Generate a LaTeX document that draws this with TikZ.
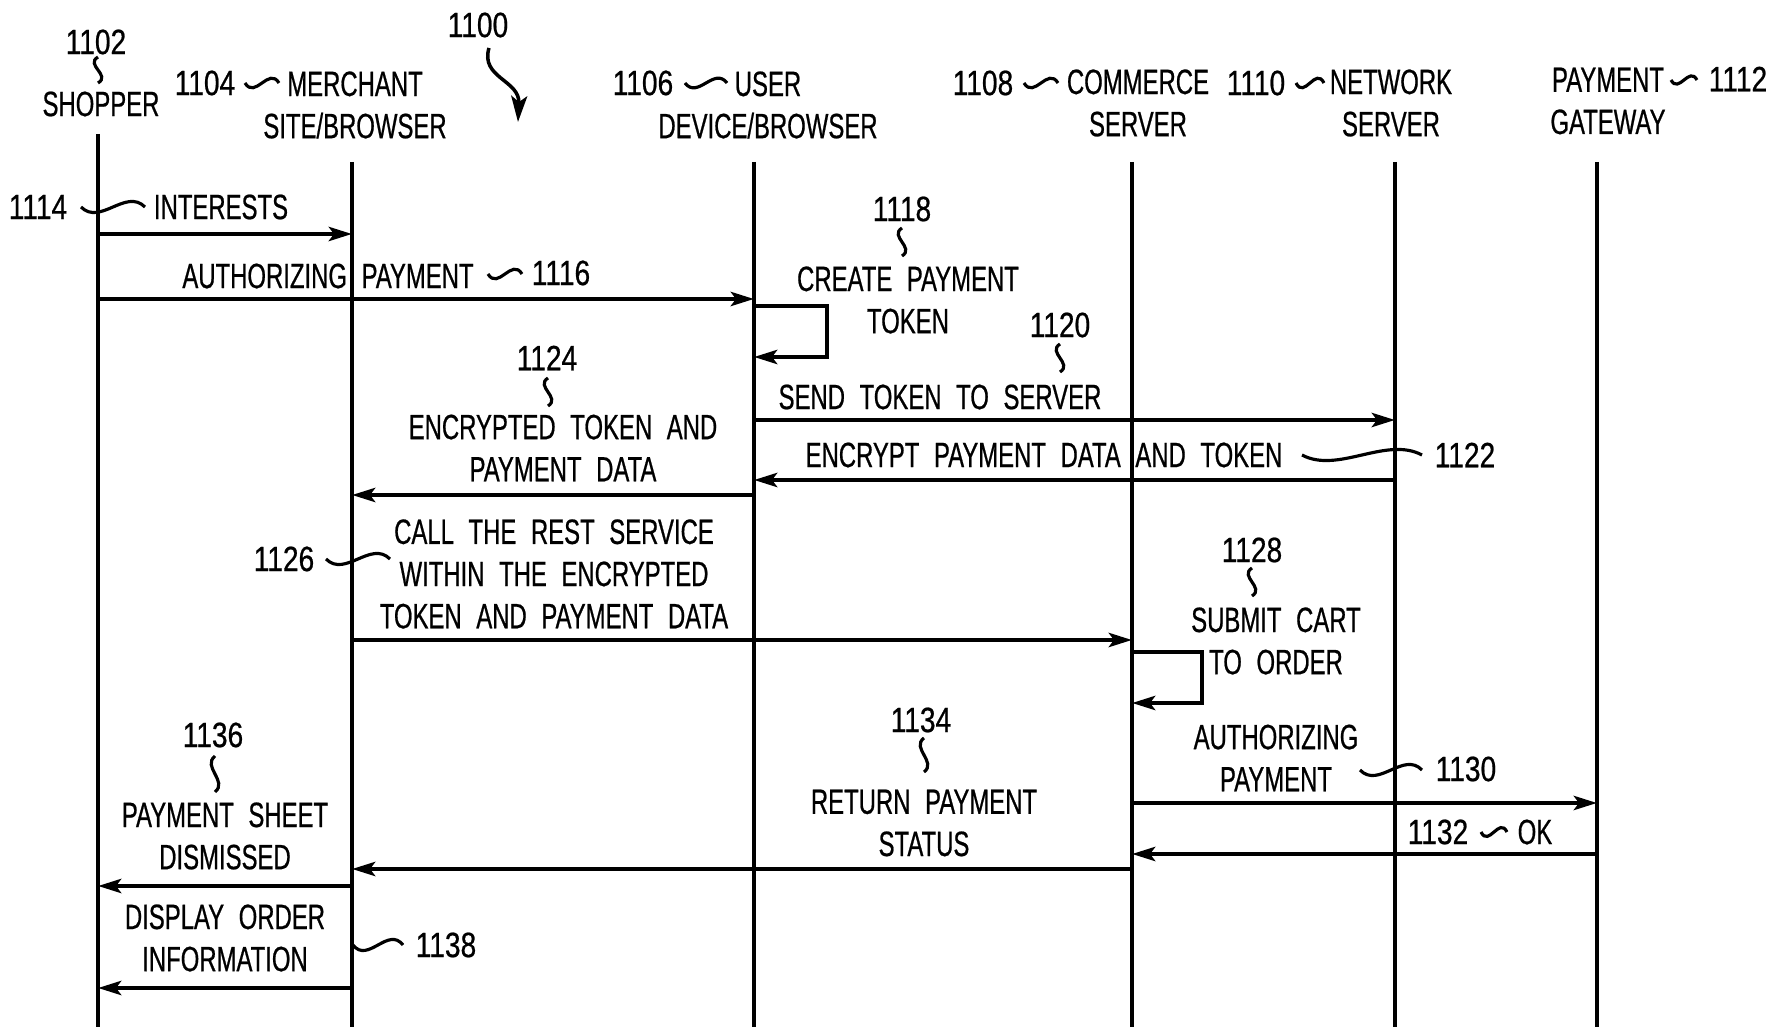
\documentclass[tikz,border=0pt]{standalone}
\usepackage{fontspec}
\setmainfont{Liberation Sans}[FakeStretch=0.68,WordSpace=2.2,FakeBold=0.6]
\newfontfamily\numfont{Liberation Sans}[FakeStretch=0.8,FakeBold=0.6]
\usetikzlibrary{arrows.meta}
\begin{document}
\begin{tikzpicture}[x=0.1mm,y=-0.1mm,
  txt/.style={font=\fontsize{10}{12}\selectfont, align=center, inner sep=0pt},
  num/.style={font=\numfont\fontsize{10}{12}\selectfont, inner sep=0pt},
  life/.style={line width=1.2pt},
  msg/.style={line width=1.3pt,-{Stealth[length=2.3mm,width=1.4mm,inset=0.5mm]}},
  lead/.style={line width=0.9pt},
  hsq/.pic={\draw[lead] (-1,0) .. controls (-0.4,1.2) and (0.4,-1.2) .. (1,0);},
  vsq/.pic={\draw[lead] (0,-1) .. controls (-1.2,-0.4) and (1.2,0.4) .. (0,1);}]
\useasboundingbox (0,0) rectangle (1775,1033);
% lifelines
\coordinate (s0) at (98,134);  \coordinate (s1) at (98,1027);
\coordinate (m0) at (352,162); \coordinate (m1) at (352,1027);
\coordinate (u0) at (754,162); \coordinate (u1) at (754,1027);
\coordinate (c0) at (1132,162); \coordinate (c1) at (1132,1027);
\coordinate (n0) at (1395,162); \coordinate (n1) at (1395,1027);
\coordinate (g0) at (1597,162); \coordinate (g1) at (1597,1027);
\foreach \a/\b in {s0/s1,m0/m1,u0/u1,c0/c1,n0/n1,g0/g1} \draw[life] (\a) -- (\b);
% headings
\node[num] (n1102) at (96,42) {1102};
\pic[xscale=11,yscale=13] at (98,70) {vsq};
\node[txt] (shop) at (101,104) {SHOPPER};
\node[num] (n1104) at (205,83) {1104};
\pic[xscale=17,yscale=14] at (262,83) {hsq};
\node[txt] (merch) at (355,105) {MERCHANT\\SITE/BROWSER};
\node[num] (n1100) at (478,25) {1100};
\coordinate (a1100s) at (489,48);
\coordinate (a1100e) at (518,122);
\draw[line width=1pt,-{Stealth[length=2.6mm,width=1.6mm,inset=0.6mm]}] (a1100s) .. controls (480,78) and (520,80) .. (a1100e);
\node[num] (n1106) at (643,83) {1106};
\pic[xscale=21,yscale=14] at (706,83) {hsq};
\node[txt] (user) at (768,105) {USER\\DEVICE/BROWSER};
\node[num] (n1108) at (983,83) {1108};
\pic[xscale=17,yscale=14] at (1041,83) {hsq};
\node[txt] (comm) at (1138,103) {COMMERCE\\SERVER};
\node[num] (n1110) at (1256,83) {1110};
\pic[xscale=14,yscale=14] at (1310,83) {hsq};
\node[txt] (netw) at (1391,103) {NETWORK\\SERVER};
\node[txt] (gate) at (1608,101) {PAYMENT\\GATEWAY};
\pic[xscale=13,yscale=12] at (1684,80) {hsq};
\node[num] (n1112) at (1738,79) {1112};
% message y levels
\coordinate (yI) at (0,234);
\coordinate (yA) at (0,299);
\coordinate (yS1) at (0,306); \coordinate (yS1b) at (0,357); \coordinate (l1) at (827,0);
\coordinate (yT) at (0,420);
\coordinate (yE) at (0,480);
\coordinate (yET) at (0,495);
\coordinate (yC) at (0,640);
\coordinate (yS2) at (0,652); \coordinate (yS2b) at (0,703); \coordinate (l2) at (1202,0);
\coordinate (yP) at (0,803);
\coordinate (yO) at (0,854);
\coordinate (yR) at (0,869);
\coordinate (yD) at (0,886);
\coordinate (yDI) at (0,988);
% messages
\draw[msg] (s0|-yI) -- (m0|-yI);
\draw[msg] (s0|-yA) -- (u0|-yA);
\draw[msg] (u0|-yS1) -- (l1|-yS1) -- (l1|-yS1b) -- (u0|-yS1b);
\draw[msg] (u0|-yT) -- (n0|-yT);
\draw[msg] (n0|-yE) -- (u0|-yE);
\draw[msg] (u0|-yET) -- (m0|-yET);
\draw[msg] (m0|-yC) -- (c0|-yC);
\draw[msg] (c0|-yS2) -- (l2|-yS2) -- (l2|-yS2b) -- (c0|-yS2b);
\draw[msg] (c0|-yP) -- (g0|-yP);
\draw[msg] (g0|-yO) -- (c0|-yO);
\draw[msg] (c0|-yR) -- (m0|-yR);
\draw[msg] (m0|-yD) -- (s0|-yD);
\draw[msg] (m0|-yDI) -- (s0|-yDI);
% labels
\node[num] (n1114) at (38,207) {1114};
\pic[xscale=32,yscale=16] at (113,207) {hsq};
\node[txt] (lint) at (221,207) {INTERESTS};
\node[txt] (lauth) at (328,276) {AUTHORIZING PAYMENT};
\pic[xscale=17,yscale=14] at (505,274) {hsq};
\node[num] (n1116) at (561,273) {1116};
\node[num] (n1118) at (902,209) {1118};
\pic[xscale=11,yscale=14] at (902,242) {vsq};
\node[txt] (lcreate) at (908,300) {CREATE PAYMENT\\TOKEN};
\node[num] (n1120) at (1060,325) {1120};
\pic[xscale=11,yscale=14] at (1060,358) {vsq};
\node[txt] (lsend) at (940,397) {SEND TOKEN TO SERVER};
\node[txt] (lenc) at (1044,455) {ENCRYPT PAYMENT DATA AND TOKEN};
\pic[xscale=60,yscale=16] at (1362,455) {hsq};
\node[num] (n1122) at (1465,455) {1122};
\node[num] (n1124) at (547,358) {1124};
\pic[xscale=11,yscale=14] at (548,392) {vsq};
\node[txt] (lenctok) at (563,448) {ENCRYPTED TOKEN AND\\PAYMENT DATA};
\node[txt] (lcall) at (554,574) {CALL THE REST SERVICE\\WITHIN THE ENCRYPTED\\TOKEN AND PAYMENT DATA};
\node[num] (n1126) at (284,559) {1126};
\pic[xscale=32,yscale=16] at (358,559) {hsq};
\node[num] (n1128) at (1252,550) {1128};
\pic[xscale=11,yscale=14] at (1252,582) {vsq};
\node[txt] (lsubmit) at (1276,641) {SUBMIT CART\\TO ORDER};
\node[txt] (lauth2) at (1276,758) {AUTHORIZING\\PAYMENT};
\pic[xscale=31,yscale=16] at (1391,770) {hsq};
\node[num] (n1130) at (1466,769) {1130};
\node[num] (n1132) at (1438,832) {1132};
\pic[xscale=13,yscale=13] at (1494,832) {hsq};
\node[txt] (lok) at (1535,832) {OK};
\node[num] (n1134) at (921,720) {1134};
\pic[xscale=11,yscale=17] at (924,755) {vsq};
\node[txt] (lret) at (924,823) {RETURN PAYMENT\\STATUS};
\node[num] (n1136) at (213,735) {1136};
\pic[xscale=11,yscale=18] at (215,774) {vsq};
\node[txt] (ldis) at (225,836) {PAYMENT SHEET\\DISMISSED};
\node[txt] (ldisp) at (225,938) {DISPLAY ORDER\\INFORMATION};
\pic[xscale=25,yscale=16] at (378,945) {hsq};
\node[num] (n1138) at (446,945) {1138};
\end{tikzpicture}
\end{document}
